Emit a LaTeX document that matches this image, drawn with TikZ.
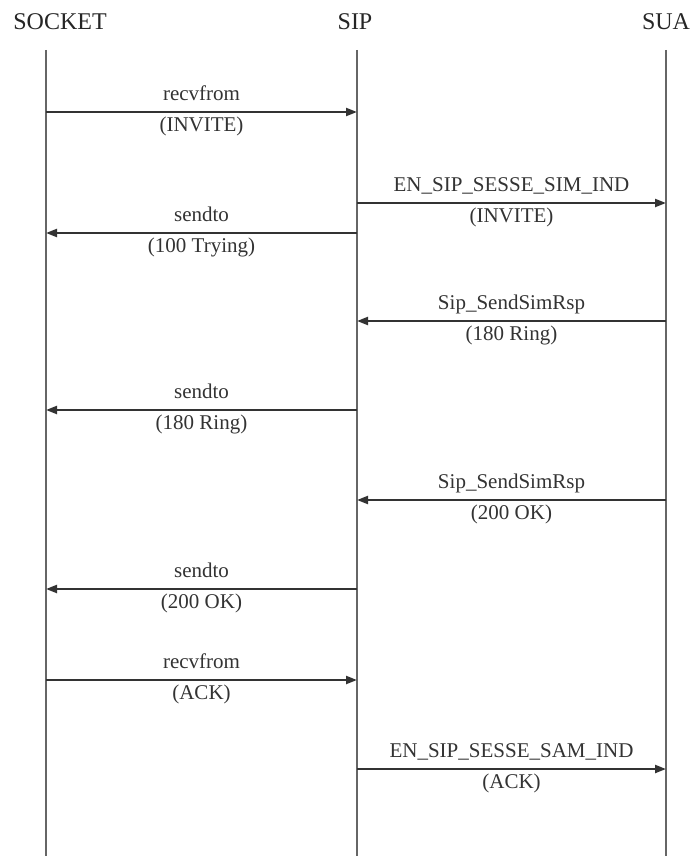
\documentclass[tikz,border=0pt]{standalone}
\usepackage{fontspec}
\setmainfont{Liberation Serif}
\usetikzlibrary{arrows.meta, positioning}

\begin{document}
\begin{tikzpicture}[x=1pt, y=-1pt,
  actor/.style={font=\fontsize{24}{28}\selectfont, text=black!85, inner sep=0pt},
  lifeline/.style={draw=black!60, line width=2.2pt},
  msg/.style={draw=black!80, line width=2.2pt, -{Triangle[length=11pt,width=8pt]}},
  call/.style={font=\fontsize{21}{24}\selectfont, text=black!80, inner sep=0pt, text height=15pt, text depth=5pt, above=5pt},
  arg/.style={font=\fontsize{21}{24}\selectfont, text=black!80, inner sep=0pt, text height=15pt, text depth=5pt, below=3pt}
]
  \useasboundingbox (0,0) rectangle (695,856);
  \node[actor] (socket) at (60,22) {SOCKET};
  \node[actor] (sip) at (355,22) {SIP};
  \node[actor] (sua) at (666,22) {SUA};

  % lifelines
  \coordinate (socket top) at (46,50);  \coordinate (socket end) at (46,856);
  \coordinate (sip top) at (357,50);    \coordinate (sip end) at (357,856);
  \coordinate (sua top) at (666,50);    \coordinate (sua end) at (666,856);
  \draw[lifeline] (socket top) -- (socket end);
  \draw[lifeline] (sip top) -- (sip end);
  \draw[lifeline] (sua top) -- (sua end);

  % message points on the lifelines
  \coordinate (k1) at (46,112);  \coordinate (s1) at (357,112);
  \coordinate (s2) at (357,203); \coordinate (u2) at (666,203);
  \coordinate (s3) at (357,233); \coordinate (k3) at (46,233);
  \coordinate (u4) at (666,321); \coordinate (s4) at (357,321);
  \coordinate (s5) at (357,410); \coordinate (k5) at (46,410);
  \coordinate (u6) at (666,500); \coordinate (s6) at (357,500);
  \coordinate (s7) at (357,589); \coordinate (k7) at (46,589);
  \coordinate (k8) at (46,680);  \coordinate (s8) at (357,680);
  \coordinate (s9) at (357,769); \coordinate (u9) at (666,769);

  % messages
  \draw[msg] (k1) -- node[call] (c1) {recvfrom} node[arg] (a1) {(INVITE)} (s1);
  \draw[msg] (s2) -- node[call] (c2) {EN\_SIP\_SESSE\_SIM\_IND} node[arg] (a2) {(INVITE)} (u2);
  \draw[msg] (s3) -- node[call] (c3) {sendto} node[arg] (a3) {(100 Trying)} (k3);
  \draw[msg] (u4) -- node[call] (c4) {Sip\_SendSimRsp} node[arg] (a4) {(180 Ring)} (s4);
  \draw[msg] (s5) -- node[call] (c5) {sendto} node[arg] (a5) {(180 Ring)} (k5);
  \draw[msg] (u6) -- node[call] (c6) {Sip\_SendSimRsp} node[arg] (a6) {(200 OK)} (s6);
  \draw[msg] (s7) -- node[call] (c7) {sendto} node[arg] (a7) {(200 OK)} (k7);
  \draw[msg] (k8) -- node[call] (c8) {recvfrom} node[arg] (a8) {(ACK)} (s8);
  \draw[msg] (s9) -- node[call] (c9) {EN\_SIP\_SESSE\_SAM\_IND} node[arg] (a9) {(ACK)} (u9);
\end{tikzpicture}
\end{document}
